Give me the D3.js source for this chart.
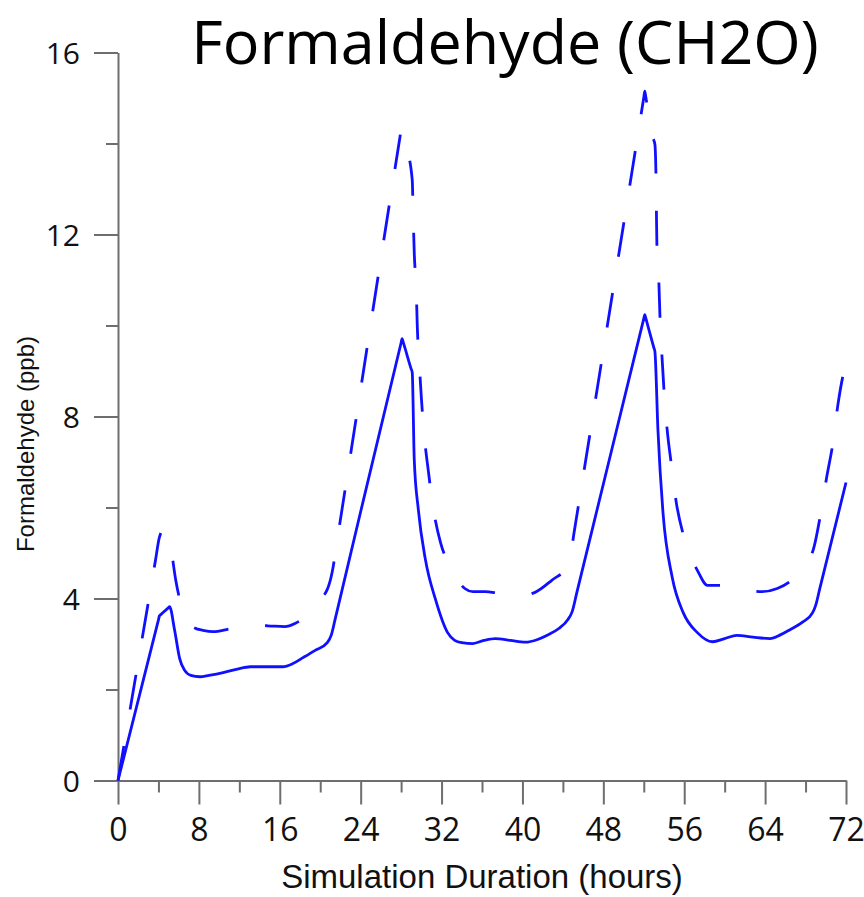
<!DOCTYPE html>
<html>
<head>
<meta charset="utf-8">
<script src="https://cdn.jsdelivr.net/npm/d3@7"></script>
<style>
  body { margin: 0; background: #fff; }
</style>
</head>
<body>
<script>
// solid curve (hours, ppb)
var hoursSolid = [0, 4, 4.1, 4.2, 5, 5.1, 5.6, 6.1, 6.6, 7.2, 8.1, 9, 10.4, 11.8, 13.1, 14.5, 16.3, 17.3, 18.3, 19.5, 20.7, 21.1, 21.5,
  28, 28.1, 28.2, 29, 29.1, 29.3, 29.7, 30.4, 31.4, 32.6, 33.3, 34, 35.1, 36.2, 37.3, 38.8, 40.3, 41.5, 42.5, 43.6, 44.5, 44.9, 45.4,
  52, 52.1, 52.2, 53, 53.1, 53.4, 53.9, 54.8, 55.9, 57.3, 58.8, 60, 61.2, 62.8, 64.5, 65.5, 66.5, 67.7, 68.7, 69, 69.4, 72];
var ppbSolid = [0, 3.53, 3.62, 3.64, 3.8, 3.82, 3.3, 2.68, 2.42, 2.31, 2.28, 2.31, 2.37, 2.45, 2.5, 2.5, 2.5, 2.57, 2.7, 2.86, 3.03, 3.2, 3.57,
  9.62, 9.71, 9.64, 9.04, 8.97, 7.05, 5.96, 4.86, 3.98, 3.25, 3.08, 3.03, 3.01, 3.08, 3.12, 3.08, 3.04, 3.1, 3.2, 3.34, 3.54, 3.7, 4.15,
  10.15, 10.24, 10.16, 9.51, 9.43, 7.71, 5.89, 4.48, 3.69, 3.25, 3.05, 3.12, 3.19, 3.15, 3.12, 3.2, 3.32, 3.48, 3.69, 3.85, 4.21, 6.55];

// dashed curve (hours, ppb)
var hoursDashed = [0, 3.7, 4.1, 4.5, 5.2, 5.7, 6.6, 7, 7.6, 8.4, 9.4, 11, 13.1, 14.8, 16.5, 17.5, 18.5, 19.5, 20.7, 21.2, 21.7,
  27.9, 28, 28.1, 28.5, 29.1, 29.2, 29.3, 29.5, 29.6, 29.8, 30, 30.3, 30.7, 31.2, 31.9, 32.6, 33.4, 34.3, 35.1, 36.3, 37.5, 38.7,
  39.9, 41.2, 42.9, 44.6, 45.1, 52, 52.1, 52.2, 52.9, 53.1, 53.2, 53.25, 53.3, 53.5, 53.6, 53.8, 54, 54.3, 54.7, 55.2, 55.9, 56.6,
  57.3, 58.3, 60, 61.8, 63.7, 65.2, 66.7, 67.8, 68.8, 69.5, 70.1, 70.7, 71.2, 71.8, 72];
var ppbDashed = [0, 4.83, 5.35, 5.5, 5.14, 4.42, 3.6, 3.45, 3.35, 3.3, 3.27, 3.33, 3.41, 3.4, 3.38, 3.45, 3.6, 3.89, 4.2, 4.6, 5.31,
  14.16, 14.3, 14.23, 13.93, 13.2, 12.37, 11.6, 10.77, 9.98, 9.16, 8.42, 7.56, 6.79, 5.96, 5.23, 4.8, 4.46, 4.22, 4.15, 4.15, 4.12, 4.08,
  4.07, 4.13, 4.4, 4.75, 5.44, 15.01, 15.15, 15.02, 14.13, 13.98, 13.36, 12.5, 11.75, 10.9, 10.2, 9.32, 8.57, 7.74, 6.99, 6.13, 5.41, 4.95,
  4.62, 4.29, 4.29, 4.2, 4.15, 4.22, 4.42, 4.7, 5.1, 5.87, 6.68, 7.41, 8.26, 8.99, 9.15];

var xTicks = [0, 8, 16, 24, 32, 40, 48, 56, 64, 72];
var xMinorTicks = [4, 12, 20, 28, 36, 44, 52, 60, 68];
var yTicks = [0, 4, 8, 12, 16];
var yMinorTicks = [2, 6, 10, 14];

var width = 864, height = 897;
var axisColor = "#6e6e6e", lineColor = "#1010ff";

var svg = d3.select("body").append("svg")
    .attr("width", width)
    .attr("height", height);

var x = d3.scaleLinear().domain([0, 72]).range([118, 846]);
var y = d3.scaleLinear().domain([0, 16]).range([780.5, 52.5]);

// axes
var xAxis = svg.append("g")
    .attr("transform", "translate(0," + y(0) + ")")
    .call(d3.axisBottom(x).tickValues(xTicks).tickSize(24).tickSizeOuter(0).tickPadding(14));
var xMinor = svg.append("g")
    .attr("transform", "translate(0," + y(0) + ")")
    .call(d3.axisBottom(x).tickValues(xMinorTicks).tickSize(12).tickSizeOuter(0).tickFormat(""));
var yAxis = svg.append("g")
    .attr("transform", "translate(" + x(0) + ",0)")
    .call(d3.axisLeft(y).tickValues(yTicks).tickSize(24).tickSizeOuter(0).tickPadding(14));
var yMinor = svg.append("g")
    .attr("transform", "translate(" + x(0) + ",0)")
    .call(d3.axisLeft(y).tickValues(yMinorTicks).tickSize(12).tickSizeOuter(0).tickFormat(""));

svg.selectAll(".domain, .tick line")
    .attr("stroke", axisColor)
    .attr("stroke-width", 2);
xMinor.select(".domain").remove();
yMinor.select(".domain").remove();

xAxis.selectAll(".tick text")
    .attr("fill", "#111")
    .style("font-family", "'Open Sans', sans-serif")
    .style("font-size", "32px");
yAxis.selectAll(".tick text")
    .attr("fill", "#111")
    .attr("dy", "0.36em")
    .style("font-family", "'Open Sans', sans-serif")
    .style("font-size", "30px");

// lines
var line = d3.line()
    .curve(d3.curveMonotoneX)
    .x(function(d) { return x(d[0]); })
    .y(function(d) { return y(d[1]); });

var dashedData = hoursDashed.map(function(h, i) { return [h, ppbDashed[i]]; });
var solidData = hoursSolid.map(function(h, i) { return [h, ppbSolid[i]]; });

svg.append("path")
    .datum(dashedData)
    .attr("d", line)
    .attr("fill", "none")
    .attr("stroke", lineColor)
    .attr("stroke-width", 2.8)
    .attr("stroke-dasharray", "35,37");

svg.append("path")
    .datum(solidData)
    .attr("d", line)
    .attr("fill", "none")
    .attr("stroke", lineColor)
    .attr("stroke-width", 2.8)
    .attr("stroke-linejoin", "round");

// titles
svg.append("text")
    .attr("x", 505)
    .attr("y", 64)
    .attr("text-anchor", "middle")
    .style("font-family", "'Open Sans', sans-serif")
    .style("font-size", "61px")
    .attr("fill", "#000")
    .text("Formaldehyde (CH2O)");

svg.append("text")
    .attr("x", 482)
    .attr("y", 888)
    .attr("text-anchor", "middle")
    .style("font-family", "'Liberation Sans', Arial, sans-serif")
    .style("font-size", "33px")
    .attr("fill", "#111")
    .text("Simulation Duration (hours)");

svg.append("text")
    .attr("transform", "translate(34,444) rotate(-90)")
    .attr("text-anchor", "middle")
    .style("font-family", "'Liberation Sans', Arial, sans-serif")
    .style("font-size", "24px")
    .attr("fill", "#111")
    .text("Formaldehyde (ppb)");
</script>
</body>
</html>
